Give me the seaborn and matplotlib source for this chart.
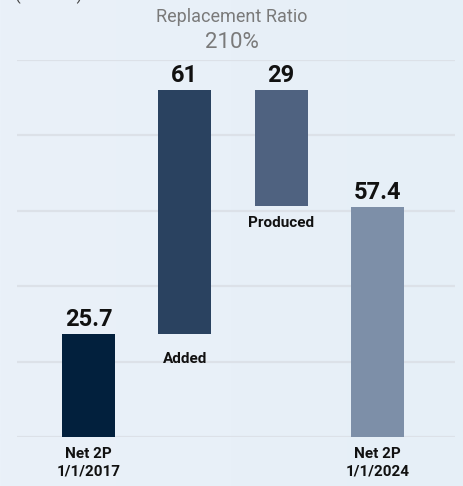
import matplotlib
matplotlib.use("Agg")
import matplotlib.pyplot as plt
import seaborn as sns
import numpy as np
import pandas as pd
from matplotlib.colors import LinearSegmentedColormap

categories = ["Net 2P\n1/1/2017", "Added", "Produced", "Net 2P\n1/1/2024"]
values = [25.7, 61, 29, 57.4]
value_labels = ["25.7", "61", "29", "57.4"]
steps = ["total", "up", "down", "total"]
bar_colors = ["#02203D", "#2A4260", "#4F6280", "#7D8FA8"]
title_text = "Replacement Ratio"
ratio_text = "210%"
unit_text = "(MMboe)"

# waterfall bottoms
bottoms = []
running = 0.0
for v, s in zip(values, steps):
    if s == "total":
        bottoms.append(0.0)
        running = v
    elif s == "up":
        bottoms.append(running)
        running += v
    else:
        running -= v
        bottoms.append(running)

df = pd.DataFrame({"cat": categories, "val": values, "bottom": bottoms})

sns.set_theme(style="white")
plt.rcParams["font.family"] = ["Roboto", "DejaVu Sans"]

W, H = 463, 486
fig = plt.figure(figsize=(W / 100, H / 100), dpi=100)
bg = fig.add_axes([0, 0, 1, 1], zorder=-10)
grad = np.linspace(0, 1, 256).reshape(1, -1)
cmap = LinearSegmentedColormap.from_list("bg", ["#EAF1F9", "#E6EFF7"])
bg.imshow(grad, aspect="auto", cmap=cmap, extent=[0, 1, 0, 1])
bg.axis("off")

ax = fig.add_axes([17 / W, 49 / H, 438 / W, 377 / H])
ax.patch.set_alpha(0)

sns.barplot(data=df, x="cat", y="val", bottom=df["bottom"].values, width=0.55,
            color=bar_colors[0], ax=ax, zorder=3, linewidth=0)
for p, c in zip(ax.patches, bar_colors):
    p.set_facecolor(c)

ymax = 94.2
ax.set_ylim(0, ymax)
ax.set_xlim(-0.743, 3.806)
ax.set_yticks(np.linspace(0, ymax, 6))
ax.grid(axis="y", color="#DCE1E8", linewidth=1.6, zorder=0)
ax.set_yticklabels([])
ax.tick_params(left=False, bottom=False, labelbottom=False)
for s in ax.spines.values():
    s.set_visible(False)
ax.set_xlabel("")
ax.set_ylabel("")

# value labels above bars
for i, (v, b, lab) in enumerate(zip(values, bottoms, value_labels)):
    top = b + v
    ax.annotate(lab, (i, top), xytext=(0, 10.5), textcoords="offset points",
                ha="center", va="center", fontsize=17, fontweight="bold",
                color="#111111")

# category labels
for i, (cat, v, b, s) in enumerate(zip(categories, values, bottoms, steps)):
    if s == "total":
        ax.annotate(cat, (i, 0), xytext=(0, -7), textcoords="offset points",
                    ha="center", va="top", fontsize=11, fontweight="bold",
                    color="#111111", linespacing=1.3)
    else:
        off = -18 if s == "up" else -12.5
        ax.annotate(cat, (i, b), xytext=(0, off), textcoords="offset points",
                    ha="center", va="center", fontsize=11, fontweight="bold",
                    color="#111111")

fig.text(0.5, 1 - 17 / H, title_text, ha="center", va="center", fontsize=13,
         color="#7A7A7A")
fig.text(0.5, 1 - 43 / H, ratio_text, ha="center", va="center", fontsize=16,
         color="#7A7A7A")
fig.text(15 / W, 1 - 4 / H, unit_text, ha="left", va="bottom", fontsize=12,
         color="#444444")

fig.savefig("out.png", dpi=100)
